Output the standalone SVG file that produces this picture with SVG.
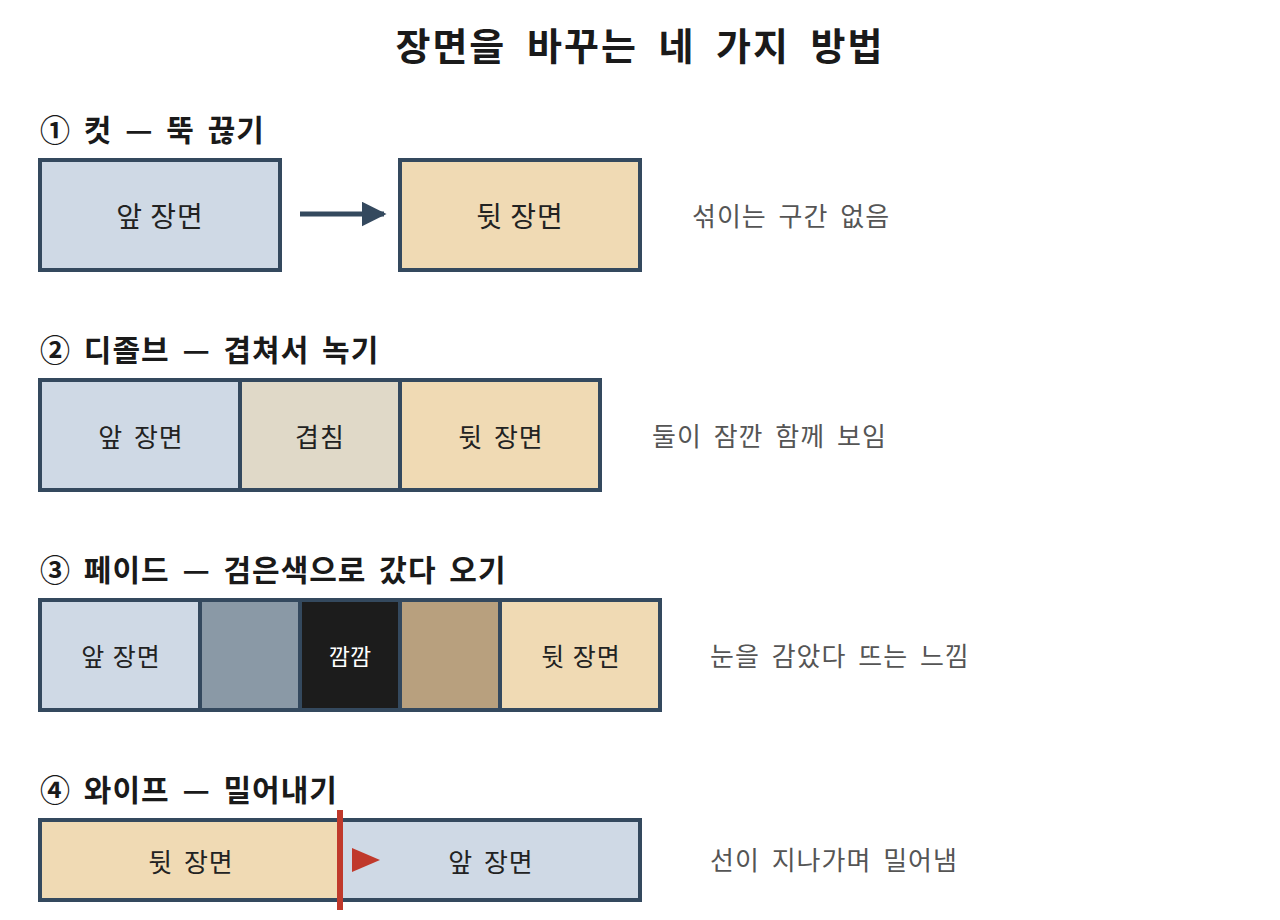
<svg xmlns="http://www.w3.org/2000/svg" width="1280" height="920" viewBox="0 0 1280 920">
<style>
.f{font-family:"Noto Sans CJK KR","Noto Sans",sans-serif}
.title{font-size:38px;font-weight:700;fill:#1a1a1a;text-anchor:middle;letter-spacing:2px;word-spacing:10px}
.h{font-size:30px;font-weight:700;fill:#1a1a1a;letter-spacing:1px;word-spacing:5px}
.lbl{font-size:28px;fill:#222;text-anchor:middle;dominant-baseline:central;letter-spacing:1px}
.lbl2{font-size:26px;fill:#222;text-anchor:middle;dominant-baseline:central;letter-spacing:1px;word-spacing:4px}
.lbl3{font-size:25px;fill:#222;text-anchor:middle;dominant-baseline:central;letter-spacing:1px;word-spacing:1px}
.note{font-size:26px;fill:#555;dominant-baseline:central;letter-spacing:1px;word-spacing:5px}
.box{stroke:#34495e;stroke-width:4}
.front{fill:#cfd9e5}
.back{fill:#f0dab4}
</style>
<defs>
<marker id="ah" viewBox="0 0 10 10" refX="9" refY="5" markerWidth="5" markerHeight="5" markerUnits="strokeWidth" orient="auto">
<path d="M0,0 L10,5 L0,10 z" fill="#34495e"/>
</marker>
</defs>
<rect width="1280" height="920" fill="#ffffff"/>
<text class="f title" x="640" y="60">장면을 바꾸는 네 가지 방법</text>

<text class="f h" x="40" y="141">① 컷 — 뚝 끊기</text>
<g id="cut-front"><rect class="box front" x="40" y="160" width="240" height="110"/><text class="f lbl" x="160" y="215">앞 장면</text></g>
<g id="cut-back"><rect class="box back" x="400" y="160" width="240" height="110"/><text class="f lbl" x="520" y="215">뒷 장면</text></g>
<text class="f note" x="692" y="214">섞이는 구간 없음</text>

<text class="f h" x="40" y="361">② 디졸브 — 겹쳐서 녹기</text>
<g id="dissolve-front"><rect class="box front" x="40" y="380" width="200" height="110"/><text class="f lbl2" x="141" y="435">앞 장면</text></g>
<g id="dissolve-overlap"><rect class="box" fill="#e0d9c8" x="240" y="380" width="160" height="110"/><text class="f lbl2" x="320" y="435">겹침</text></g>
<g id="dissolve-back"><rect class="box back" x="400" y="380" width="200" height="110"/><text class="f lbl2" x="501" y="435">뒷 장면</text></g>
<text class="f note" x="652" y="434">둘이 잠깐 함께 보임</text>

<text class="f h" x="40" y="581">③ 페이드 — 검은색으로 갔다 오기</text>
<g id="fade-front"><rect class="box front" x="40" y="600" width="160" height="110"/><text class="f lbl3" x="121" y="655">앞 장면</text></g>
<g id="fade-dim1"><rect class="box" fill="#8a99a6" x="200" y="600" width="100" height="110"/></g>
<g id="fade-black"><rect class="box" fill="#1c1c1c" x="300" y="600" width="100" height="110"/><text class="f" x="350" y="655" font-size="23" fill="#ffffff" text-anchor="middle" dominant-baseline="central">깜깜</text></g>
<g id="fade-dim2"><rect class="box" fill="#b8a07e" x="400" y="600" width="100" height="110"/></g>
<g id="fade-back"><rect class="box back" x="500" y="600" width="160" height="110"/><text class="f lbl3" x="581" y="655">뒷 장면</text></g>
<text class="f note" x="710" y="654">눈을 감았다 뜨는 느낌</text>

<text class="f h" x="40" y="801">④ 와이프 — 밀어내기</text>
<g id="wipe-back"><rect class="box back" x="40" y="820" width="300" height="80"/><text class="f lbl2" x="191" y="860">뒷 장면</text></g>
<g id="wipe-front"><rect class="box front" x="340" y="820" width="300" height="80"/><text class="f lbl2" x="491" y="860">앞 장면</text></g>
<text class="f note" x="710" y="858">선이 지나가며 밀어냄</text>

<g id="connectors">
<line x1="300" y1="214" x2="384" y2="214" stroke="#34495e" stroke-width="5" marker-end="url(#ah)"/>
<line x1="340" y1="810" x2="340" y2="910" stroke="#c0392b" stroke-width="6"/>
<path d="M352,848 L380,860 L352,872 z" fill="#c0392b"/>
</g>
</svg>
